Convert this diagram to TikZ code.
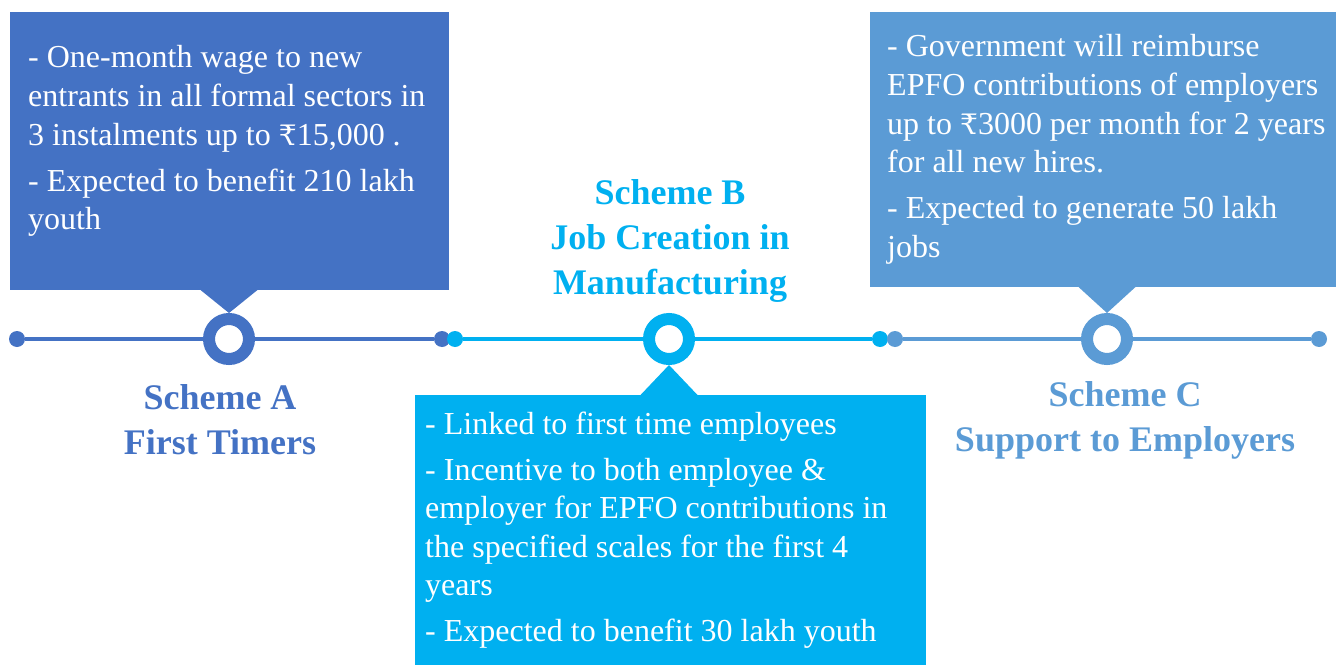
\documentclass[tikz,border=0pt]{standalone}
\usepackage{fontspec}
\setmainfont{Liberation Serif}
\newfontfamily\rupeefont[Scale=0.88]{DejaVu Serif}
\newcommand{\rs}{{\rupeefont ₹}}
\usetikzlibrary{positioning}

\definecolor{schemeA}{HTML}{4472C4}
\definecolor{schemeB}{HTML}{00B0F0}
\definecolor{schemeC}{HTML}{5B9BD5}

\tikzset{
	box/.style={fill=#1,anchor=north west,inner sep=0pt,outer sep=0pt},
	ring/.style={circle,draw=#1,line width=12bp,fill=white,minimum size=40bp,inner sep=0pt},
	dot/.style={circle,fill=#1,minimum size=16bp,inner sep=0pt},
	infotext/.style={anchor=base west,text=white,align=left,inner sep=0pt,font=\fontsize{32bp}{38.5bp}\selectfont},
	title/.style={anchor=base,text=#1,align=center,inner sep=0pt,font=\fontsize{36bp}{45bp}\selectfont\bfseries}
}

\begin{document}
\begin{tikzpicture}[x=1bp,y=-1bp]
		\useasboundingbox (0,0) rectangle (1336,665);
		
		% Scheme A (node base = last line)
		\node[box=schemeA,minimum width=439bp,minimum height=278bp] (boxA) at (10,12) {};
		\node[ring=schemeA] (ringA) at (229,339) {};
		\fill[schemeA] (boxA.south -| ringA) ++(-28.5,0) -- ++(57,0) -- (ringA.north) -- cycle;
		\node[dot=schemeA] (a1) at (17,339) {};
		\node[dot=schemeA] (a2) at (442,339) {};
		\draw[schemeA,line width=4bp] (a1) -- (ringA) -- (a2);
		\node[infotext] (textA) at (28,229.5) {- One-month wage to new\\ entrants in all formal sectors in\\ 3 instalments up to \rs15,000 .\\[7.5bp] - Expected to benefit 210 lakh\\ youth};
		\node[title=schemeA] (titleA) at (220,454) {Scheme A\\ First Timers};
		
		% Scheme B
		\node[box=schemeB,minimum width=511bp,minimum height=270bp] (boxB) at (415,395) {};
		\node[ring=schemeB] (ringB) at (669,339) {};
		\fill[schemeB] (boxB.north -| ringB) ++(-28.5,0) -- ++(57,0) -- (ringB.south) -- cycle;
		\node[dot=schemeB] (b1) at (455,339) {};
		\node[dot=schemeB] (b2) at (880,339) {};
		\draw[schemeB,line width=4bp] (b1) -- (ringB) -- (b2);
		\node[infotext] (textB) at (425,641.5) {- Linked to first time employees\\[7.5bp] - Incentive to both employee \&\\ employer for EPFO contributions in\\ the specified scales for the first 4\\ years\\[7.5bp] - Expected to benefit 30 lakh youth};
		\node[title=schemeB] (titleB) at (670,294) {Scheme B\\ Job Creation in\\ Manufacturing};
		
		% Scheme C
		\node[box=schemeC,minimum width=466bp,minimum height=275bp] (boxC) at (870,12) {};
		\node[ring=schemeC] (ringC) at (1107,339) {};
		\fill[schemeC] (boxC.south -| ringC) ++(-28.5,0) -- ++(57,0) -- (ringC.north) -- cycle;
		\node[dot=schemeC] (c1) at (895,339) {};
		\node[dot=schemeC] (c2) at (1319,339) {};
		\draw[schemeC,line width=4bp] (c1) -- (ringC) -- (c2);
		\node[infotext] (textC) at (887,257) {- Government will reimburse\\ EPFO contributions of employers\\ up to \rs3000 per month for 2 years\\ for all new hires.\\[7.5bp] - Expected to generate 50 lakh\\ jobs};
		\node[title=schemeC] (titleC) at (1125,451) {Scheme C\\ Support to Employers};
	\end{tikzpicture}
\end{document}
